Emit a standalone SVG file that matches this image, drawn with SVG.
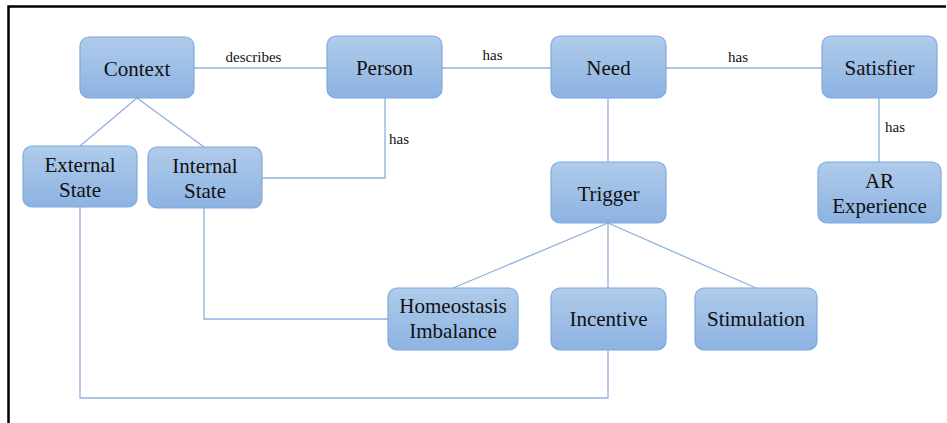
<svg xmlns="http://www.w3.org/2000/svg" width="947" height="423" viewBox="0 0 947 423">
<defs>
<linearGradient id="g" x1="0" y1="0" x2="0" y2="1">
<stop offset="0" stop-color="#b0cbea"/>
<stop offset="1" stop-color="#8cb3e2"/>
</linearGradient>
<style>
.n rect{fill:url(#g);stroke:#7ea9de;stroke-width:1.2}
.n text{font-size:21px;fill:#111;text-anchor:middle}
.c{fill:none;stroke:#8eb0e2;stroke-width:1.3}
.l{font-size:15px;fill:#111}
</style>
</defs>
<rect width="947" height="423" fill="#fff"/>
<path d="M8.5,423 V6.5 H946" fill="none" stroke="#000" stroke-width="2.5"/>
<g id="connectors" font-family="'Liberation Serif', 'DejaVu Serif', serif">
<path class="c" d="M194,68 H327"/>
<path class="c" d="M442,68 H551"/>
<path class="c" d="M666,68 H822"/>
<path class="c" d="M137,98 L80,146"/>
<path class="c" d="M137,98 L204,147"/>
<path class="c" d="M262,178 H385 V98"/>
<path class="c" d="M608,98 V162"/>
<path class="c" d="M879,98 V162"/>
<path class="c" d="M608,223 L453,288"/>
<path class="c" d="M608,223 V288"/>
<path class="c" d="M608,223 L756,288"/>
<path class="c" d="M204,208 V319 H388"/>
<path class="c" d="M80,207 V398 H608 V350"/>
<text class="l" x="253.5" y="62" text-anchor="middle">describes</text>
<text class="l" x="492.5" y="60" text-anchor="middle">has</text>
<text class="l" x="738" y="62" text-anchor="middle">has</text>
<text class="l" x="389" y="144">has</text>
<text class="l" x="885" y="132">has</text>
</g>
<g font-family="'Liberation Serif', 'DejaVu Serif', serif">
<g id="context" class="n"><rect x="80" y="37" width="114" height="61" rx="9"/><text x="137" y="76">Context</text></g>
<g id="person" class="n"><rect x="327" y="36" width="115" height="62" rx="9"/><text x="384.5" y="75">Person</text></g>
<g id="need" class="n"><rect x="551" y="36" width="115" height="62" rx="9"/><text x="608.5" y="75">Need</text></g>
<g id="satisfier" class="n"><rect x="822" y="36" width="115" height="62" rx="9"/><text x="879.5" y="75">Satisfier</text></g>
<g id="external-state" class="n"><rect x="23" y="146" width="114" height="61" rx="9"/><text x="80" y="172">External</text><text x="80" y="197">State</text></g>
<g id="internal-state" class="n"><rect x="148" y="147" width="114" height="61" rx="9"/><text x="205" y="173">Internal</text><text x="205" y="198">State</text></g>
<g id="trigger" class="n"><rect x="551" y="162" width="115" height="61" rx="9"/><text x="608.5" y="201">Trigger</text></g>
<g id="ar-experience" class="n"><rect x="818" y="162" width="123" height="61" rx="9"/><text x="879.5" y="188">AR</text><text x="879.5" y="213">Experience</text></g>
<g id="homeostasis-imbalance" class="n"><rect x="388" y="288" width="130" height="62" rx="9"/><text x="453" y="313">Homeostasis</text><text x="453" y="338">Imbalance</text></g>
<g id="incentive" class="n"><rect x="551" y="288" width="115" height="62" rx="9"/><text x="608.5" y="326">Incentive</text></g>
<g id="stimulation" class="n"><rect x="695" y="288" width="122" height="62" rx="9"/><text x="756" y="326">Stimulation</text></g>
</g>
</svg>
